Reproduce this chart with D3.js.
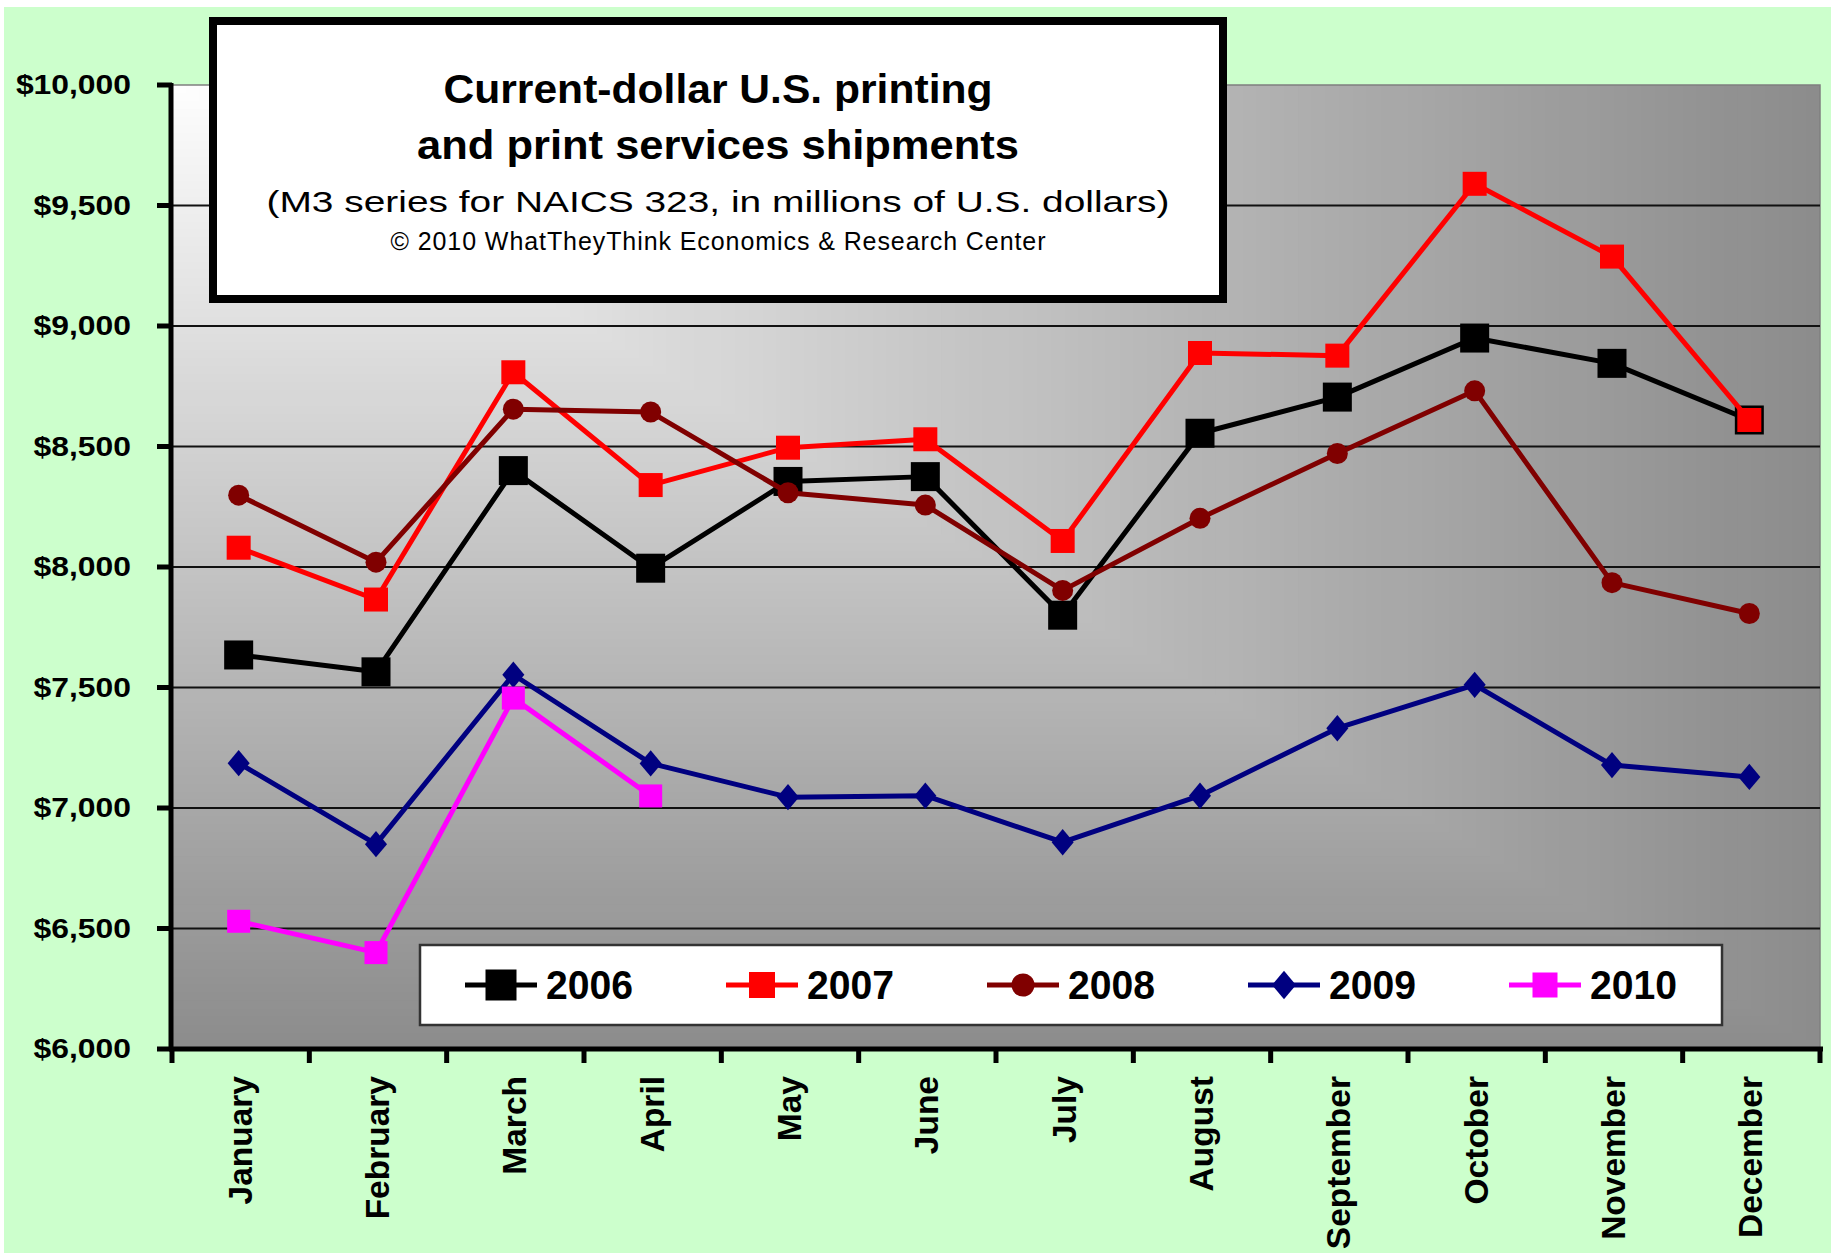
<!DOCTYPE html>
<html>
<head>
<meta charset="utf-8">
<script src="https://cdn.jsdelivr.net/npm/d3@7/dist/d3.min.js"></script>
<style>
  html, body { margin: 0; padding: 0; background: #fff; }
  svg { display: block; font-family: Arial, "Liberation Sans", sans-serif; }
</style>
</head>
<body>
<div id="chart"></div>
<script>
// values (millions of U.S. dollars)
const months = ["January", "February", "March", "April", "May", "June",
  "July", "August", "September", "October", "November", "December"];
const years = ["2006", "2007", "2008", "2009", "2010"];
const ship2006 = [7635, 7565, 8400, 7995, 8355, 8375, 7800, 8555, 8705, 8950, 8845, 8610];
const ship2007 = [8080, 7865, 8808, 8340, 8495, 8530, 8108, 8888, 8877, 9590, 9288, 8610];
const ship2008 = [8298, 8020, 8655, 8643, 8308, 8257, 7903, 8202, 8471, 8731, 7935, 7807];
const ship2009 = [7186, 6850, 7553, 7185, 7045, 7051, 6858, 7051, 7331, 7511, 7178, 7129];
const ship2010 = [6530, 6400, 7456, 7050];
const yTicks = [6000, 6500, 7000, 7500, 8000, 8500, 9000, 9500, 10000];

const titleLines = ["Current-dollar U.S. printing", "and print services shipments"];
const subtitle = "(M3 series for NAICS 323, in millions of U.S. dollars)";
const credit = "\u00a9 2010 WhatTheyThink Economics & Research Center";

const seriesValues = [ship2006, ship2007, ship2008, ship2009, ship2010];
const series = years.map((name, i) => ({ name: name, values: seriesValues[i] }));

// look of each series
const styles = {
  "2006": { color: "#000000", marker: "square", size: 29 },
  "2007": { color: "#ff0000", marker: "square", size: 24 },
  "2008": { color: "#800000", marker: "circle", size: 21 },
  "2009": { color: "#000080", marker: "diamond", size: 24 },
  "2010": { color: "#ff00ff", marker: "square", size: 23 }
};

const W = 1833, H = 1254;
const plot = { left: 172, right: 1820, top: 85, bottom: 1049 };

const svg = d3.select("#chart").append("svg")
  .attr("width", W)
  .attr("height", H);

// green chart background
svg.append("rect")
  .attr("x", 4).attr("y", 7)
  .attr("width", 1827).attr("height", 1246)
  .attr("fill", "#ccffcc");

const x = d3.scaleBand().domain(months).range([plot.left, plot.right]);
const y = d3.scaleLinear().domain([6000, 10000]).range([plot.bottom, plot.top]);
// Excel puts the points a touch left of the band centre
const cx = m => x(m) + x.bandwidth() / 2 - 2;

// grey "from corner" gradient of the plot area: nested rects from top-left
const pw = plot.right - plot.left, ph = plot.bottom - plot.top;
const shade = d3.interpolateRgb("#ffffff", "#8c8c8c");
const steps = d3.range(120, 0, -1).map(i => i / 120);
svg.append("g")
  .selectAll("rect")
  .data(steps)
  .join("rect")
    .attr("x", plot.left)
    .attr("y", plot.top)
    .attr("width", d => pw * d)
    .attr("height", d => ph * d)
    .attr("fill", d => shade(Math.pow(d, 0.95)));

svg.append("rect")
  .attr("x", plot.left).attr("y", plot.top)
  .attr("width", pw).attr("height", ph)
  .attr("fill", "none")
  .attr("stroke", "#7f7f7f")
  .attr("stroke-width", 1.5);

// gridlines
svg.append("g")
  .selectAll("line")
  .data(yTicks.filter(v => v > 6000 && v < 10000))
  .join("line")
    .attr("x1", plot.left).attr("x2", plot.right)
    .attr("y1", d => y(d)).attr("y2", d => y(d))
    .attr("stroke", "#111")
    .attr("stroke-width", 2);

// y axis
svg.append("line")
  .attr("x1", plot.left - 1).attr("x2", plot.left - 1)
  .attr("y1", plot.top - 2).attr("y2", plot.bottom + 2)
  .attr("stroke", "#000").attr("stroke-width", 5);

svg.append("g")
  .selectAll("line")
  .data(yTicks)
  .join("line")
    .attr("x1", plot.left - 15).attr("x2", plot.left)
    .attr("y1", d => y(d)).attr("y2", d => y(d))
    .attr("stroke", "#000").attr("stroke-width", 5);

const fmt = d3.format(",");
svg.append("g")
  .selectAll("g")
  .data(yTicks)
  .join("g")
    .attr("transform", d => "translate(131," + y(d) + ") scale(1.18,1)")
  .append("text")
    .attr("text-anchor", "end")
    .attr("dy", "0.34em")
    .attr("font-size", 27)
    .attr("font-weight", "bold")
    .attr("fill", "#000")
    .text(d => "$" + fmt(d));

// x axis with ticks on category boundaries
svg.append("line")
  .attr("x1", plot.left - 3).attr("x2", plot.right + 3)
  .attr("y1", plot.bottom).attr("y2", plot.bottom)
  .attr("stroke", "#000").attr("stroke-width", 5);

svg.append("g")
  .selectAll("line")
  .data(d3.range(months.length + 1))
  .join("line")
    .attr("x1", i => plot.left + i * x.step())
    .attr("x2", i => plot.left + i * x.step())
    .attr("y1", plot.bottom).attr("y2", plot.bottom + 14)
    .attr("stroke", "#000").attr("stroke-width", 5);

svg.append("g")
  .selectAll("text")
  .data(months)
  .join("text")
    .attr("transform", d => "translate(" + (cx(d) + 1) + ",1076) rotate(-90)")
    .attr("text-anchor", "end")
    .attr("dy", "0.36em")
    .attr("font-size", 33.5)
    .attr("font-weight", "bold")
    .text(d => d);

// markers
function drawMarker(sel, style) {
  const s = style.size;
  if (style.marker === "square") {
    sel.append("rect")
      .attr("x", -s / 2).attr("y", -s / 2)
      .attr("width", s).attr("height", s)
      .attr("fill", style.color);
  } else if (style.marker === "circle") {
    sel.append("circle")
      .attr("r", s / 2)
      .attr("fill", style.color);
  } else {
    const hw = s * 0.46, hh = s * 0.55;
    sel.append("path")
      .attr("d", "M0," + (-hh) + "L" + hw + ",0L0," + hh + "L" + (-hw) + ",0Z")
      .attr("fill", style.color);
  }
}

const line = d3.line()
  .x((d, i) => cx(months[i]))
  .y(d => y(d));

series.forEach(sr => {
  const st = styles[sr.name];
  const g = svg.append("g");
  g.append("path")
    .attr("d", line(sr.values))
    .attr("fill", "none")
    .attr("stroke", st.color)
    .attr("stroke-width", 5)
    .attr("stroke-linejoin", "round");
  g.selectAll("g")
    .data(sr.values)
    .join("g")
      .attr("transform", (d, i) => "translate(" + cx(months[i]) + "," + y(d) + ")")
      .each(function () { drawMarker(d3.select(this), st); });
});

// title box
svg.append("rect")
  .attr("x", 213).attr("y", 21)
  .attr("width", 1010).attr("height", 278)
  .attr("fill", "#fff")
  .attr("stroke", "#000")
  .attr("stroke-width", 8);

const titleLen = [549, 602];
svg.append("g")
  .selectAll("text")
  .data(titleLines)
  .join("text")
    .attr("x", 718)
    .attr("y", (d, i) => 103 + i * 56)
    .attr("text-anchor", "middle")
    .attr("font-size", 40)
    .attr("font-weight", "bold")
    .attr("textLength", (d, i) => titleLen[i])
    .attr("lengthAdjust", "spacingAndGlyphs")
    .text(d => d);

svg.append("text")
  .attr("x", 718).attr("y", 212)
  .attr("text-anchor", "middle")
  .attr("font-size", 30)
  .attr("textLength", 903)
  .attr("lengthAdjust", "spacingAndGlyphs")
  .text(subtitle);

svg.append("text")
  .attr("x", 718).attr("y", 250)
  .attr("text-anchor", "middle")
  .attr("font-size", 25)
  .style("font-family", "'Liberation Sans Narrow', 'Arial Narrow', Arial, sans-serif")
  .attr("textLength", 655)
  .attr("lengthAdjust", "spacing")
  .text(credit);

// legend
const legend = svg.append("g");
legend.append("rect")
  .attr("x", 420).attr("y", 945)
  .attr("width", 1302).attr("height", 80)
  .attr("fill", "#fff")
  .attr("stroke", "#333")
  .attr("stroke-width", 2.5);

const item = legend.selectAll("g")
  .data(series)
  .join("g")
    .attr("transform", (d, i) => "translate(" + (465 + i * 261) + ",985)");

item.append("line")
  .attr("x1", 0).attr("x2", 72)
  .attr("stroke", d => styles[d.name].color)
  .attr("stroke-width", 5);

item.append("g")
  .attr("transform", "translate(36,0)")
  .each(function (d) {
    const st = styles[d.name];
    drawMarker(d3.select(this), { color: st.color, marker: st.marker, size: st.size + 2 });
  });

item.append("text")
  .attr("x", 81)
  .attr("y", 14)
  .attr("font-size", 41)
  .attr("font-weight", "bold")
  .attr("textLength", 87)
  .attr("lengthAdjust", "spacingAndGlyphs")
  .text(d => d.name);
</script>
</body>
</html>
